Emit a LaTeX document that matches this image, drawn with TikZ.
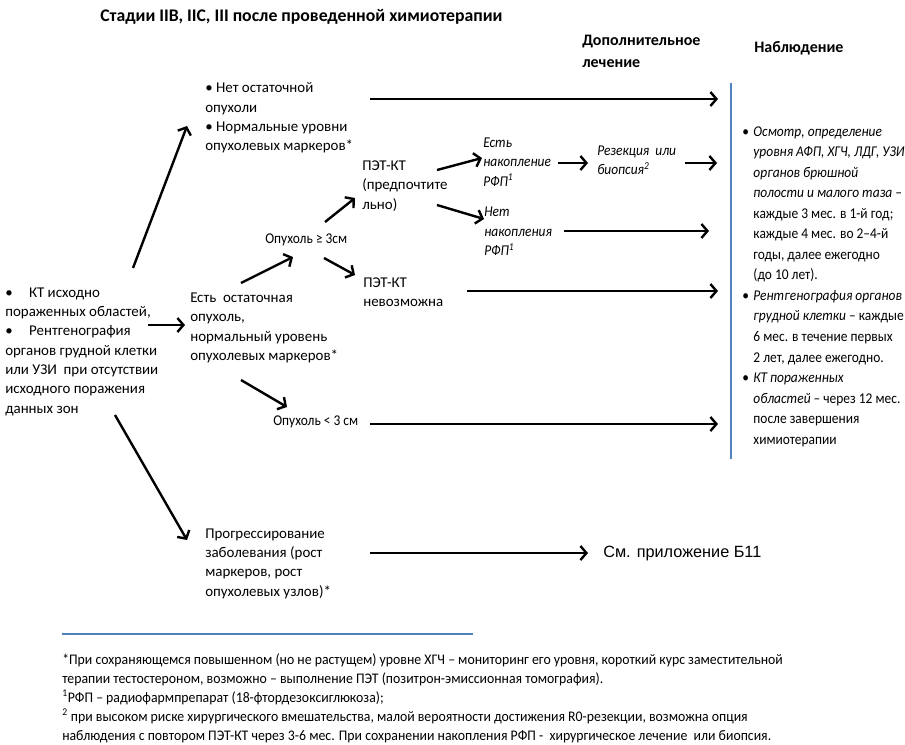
\documentclass[tikz,border=0pt]{standalone}
\usepackage{fontspec}
\setmainfont{Carlito}
\newfontfamily\arialfont{Liberation Sans}
\newfontfamily\condfont[FakeStretch=0.9]{Carlito}
\newfontfamily\notefont[FakeStretch=0.94]{Carlito}
\usetikzlibrary{arrows.meta}
\definecolor{wordblue}{RGB}{79,129,189}

\tikzset{
  txt/.style={anchor=west, align=left, inner sep=0pt, font=\fontsize{11.2}{14.5}\selectfont},
  ctxt/.style={txt, font=\fontsize{11.2}{14.5}\selectfont\condfont},
  itxt/.style={txt, font=\fontsize{11.2}{14.5}\selectfont\condfont\itshape},
  head/.style={txt, font=\fontsize{12}{16.5}\selectfont\bfseries},
  flow/.style={->, line width=1.8pt},
  sepline/.style={draw=wordblue, line width=1.2pt},
}
\newcommand{\bul}{\textbullet\hspace{0.3em}}
\newcommand{\ind}{\hphantom{\textbullet\hspace{0.3em}}}

\begin{document}
\begin{tikzpicture}[x=0.75pt, y=-0.75pt, >={Straight Barb[length=4.5pt,width=10.5pt]}]
\useasboundingbox (0,0) rectangle (905,744);

% headers
\node[head, font=\fontsize{13.3}{16}\selectfont\bfseries] (title) at (100,17) {Стадии IIB, IIC, III после проведенной химиотерапии};
\node[head] (addtr) at (582,51) {Дополнительное\\лечение};
\node[head] (obs) at (754,48) {Наблюдение};

% tree
\node[txt] (src) at (5,351.5) {\textbullet\hspace{1.1em}КТ исходно\\пораженных областей,\\\textbullet\hspace{1.1em}Рентгенография\\органов грудной клетки\\или УЗИ\ \ при отсутствии\\исходного поражения\\данных зон};
\node[txt] (noresid) at (205,118) {\textbullet\ Нет остаточной\\опухоли\\\textbullet\ Нормальные уровни\\опухолевых маркеров*};
\node[txt] (resid) at (190,328) {Есть\ \ остаточная\\опухоль,\\нормальный уровень\\опухолевых маркеров*};
\node[ctxt] (big) at (265,240) {Опухоль ≥ 3см};
\node[txt] (pet) at (362,186) {ПЭТ-КТ\\(предпочтите\\льно)};
\node[txt] (nopet) at (363,292.5) {ПЭТ-КТ\\невозможна};
\node[ctxt] (small) at (273,422) {Опухоль < 3 см};
\node[itxt] (acc) at (483,162) {Есть\\накопление\\РФП\textsuperscript{1}};
\node[itxt] (noacc) at (484,231.5) {Нет\\накопления\\РФП\textsuperscript{1}};
\node[itxt] (resect) at (597,160.5) {Резекция\ \ или\\биопсия\textsuperscript{2}};
\node[txt] (prog) at (205,563.5) {Прогрессирование\\заболевания (рост\\маркеров, рост\\опухолевых узлов)*};
\node[txt, font=\fontsize{12.2}{16}\selectfont\arialfont] (see) at (603,553) {См. приложение Б11};

\node[txt, font=\fontsize{11.2}{15.4}\selectfont\condfont] (follow) at (742,286.5) {%
\bul\textit{Осмотр, определение}\\
\ind\textit{уровня АФП, ХГЧ, ЛДГ, УЗИ}\\
\ind\textit{органов брюшной}\\
\ind\textit{полости и малого таза} –\\
\ind каждые 3 мес. в 1-й год;\\
\ind каждые 4 мес. во 2–4-й\\
\ind годы, далее ежегодно\\
\ind(до 10 лет).\\
\bul\textit{Рентгенография органов}\\
\ind\textit{грудной клетки} – каждые\\
\ind 6 мес. в течение первых\\
\ind 2 лет, далее ежегодно.\\
\bul\textit{КТ пораженных}\\
\ind\textit{областей} – через 12 мес.\\
\ind после завершения\\
\ind химиотерапии};

% arrow ends
\coordinate (s1) at (133,268); \coordinate (e1) at (187,126);
\coordinate (s2) at (148,325); \coordinate (e2) at (185,325);
\coordinate (s3) at (115,415); \coordinate (e3) at (187,540);
\coordinate (s4) at (370,99);  \coordinate (e4) at (718,99);
\coordinate (s5) at (241,283); \coordinate (e5) at (293,257);
\coordinate (s6) at (325,222); \coordinate (e6) at (355,198);
\coordinate (s7) at (324,258); \coordinate (e7) at (355,275);
\coordinate (s8) at (467,291); \coordinate (e8) at (718,291);
\coordinate (s9) at (241,380); \coordinate (e9) at (287,407);
\coordinate (s10) at (370,424); \coordinate (e10) at (718,424);
\coordinate (s11) at (437,170); \coordinate (e11) at (482,158);
\coordinate (s12) at (437,205); \coordinate (e12) at (484,219);
\coordinate (s13) at (558,163); \coordinate (e13) at (588,163);
\coordinate (s14) at (685,163); \coordinate (e14) at (717,163);
\coordinate (s15) at (564,231); \coordinate (e15) at (709,231);
\coordinate (s16) at (370,553); \coordinate (e16) at (588,553);
\foreach \i in {1,...,16}{
    \draw[flow] (s\i) -- (e\i);
}

% blue rules
\draw[sepline] (731,83) -- (731,459);
\draw[sepline] (62,634) -- (473,634);

% footnotes
\node[txt, font=\fontsize{11}{14.25}\selectfont\notefont] (notes) at (62,698) {%
*При сохраняющемся повышенном (но не растущем) уровне ХГЧ – мониторинг его уровня, короткий курс заместительной\\
терапии тестостероном, возможно – выполнение ПЭТ (позитрон-эмиссионная томография).\\
\textsuperscript{1}РФП – радиофармпрепарат (18-фтордезоксиглюкоза);\\
\textsuperscript{2} при высоком риске хирургического вмешательства, малой вероятности достижения R0-резекции, возможна опция\\
наблюдения с повтором ПЭТ-КТ через 3-6 мес. При сохранении накопления РФП -\ \ хирургическое лечение\ \ или биопсия.};
\end{tikzpicture}
\end{document}
